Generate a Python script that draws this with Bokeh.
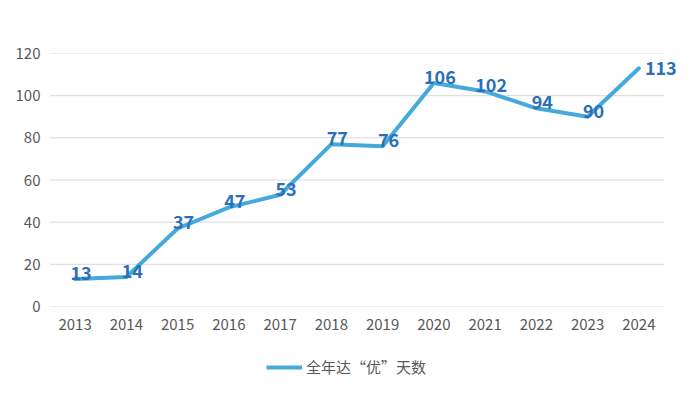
from bokeh.plotting import figure
from bokeh.layouts import column
from bokeh.models import (ColumnDataSource, LabelSet, Legend, LegendItem, FixedTicker, Range1d)
from bokeh.core.properties import value
from bokeh.embed import file_html
from bokeh.resources import INLINE

years = ["2013", "2014", "2015", "2016", "2017", "2018", "2019", "2020", "2021", "2022", "2023", "2024"]
days = [13, 14, 37, 47, 53, 77, 76, 106, 102, 94, 90, 113]
series_name = "全年达“优”天数"
y_ticks = [0, 20, 40, 60, 80, 100, 120]

idx = list(range(len(years)))
n = len(years)

src = ColumnDataSource(dict(x=idx, y=days, label=[str(v) for v in days]))
src_mid = ColumnDataSource(dict(x=idx[:-1], y=days[:-1], label=[str(v) for v in days[:-1]]))
src_end = ColumnDataSource(dict(x=idx[-1:], y=days[-1:], label=[str(v) for v in days[-1:]]))
grid_src = ColumnDataSource(dict(x0=[-0.5] * len(y_ticks), x1=[n - 0.5] * len(y_ticks), y=y_ticks))

FONT = "Noto Sans CJK SC"
LINE_COLOR = "#46a9de"

p = figure(x_range=Range1d(-0.5, n - 0.5 + 0.234), y_range=Range1d(0, 120), width=676, height=344,
           output_backend="svg", toolbar_location=None,
           min_border_left=49, min_border_right=0, min_border_top=53, min_border_bottom=38)
p.outline_line_color = None
p.background_fill_color = "white"
p.border_fill_color = "white"
p.xgrid.grid_line_color = None
p.ygrid.grid_line_color = None

p.segment(x0="x0", x1="x1", y0="y", y1="y", source=grid_src, line_color="#d9d9d9", line_width=1)

r = p.line("x", "y", source=src, line_color=LINE_COLOR, line_width=4, line_join="round", line_cap="round")

common = dict(text_baseline="middle", text_font=value(FONT), text_font_style="bold",
              text_font_size="18px", text_color="#2a6fb8")
p.add_layout(LabelSet(x="x", y="y", text="label", source=src_mid, x_offset=6, y_offset=6,
                      text_align="center", **common))
p.add_layout(LabelSet(x="x", y="y", text="label", source=src_end, x_offset=6, y_offset=0,
                      text_align="left", **common))

p.yaxis.ticker = FixedTicker(ticks=y_ticks)
p.xaxis.ticker = FixedTicker(ticks=idx)
p.xaxis.major_label_overrides = {i: y for i, y in zip(idx, years)}

for ax in (p.xaxis[0], p.yaxis[0]):
    ax.axis_line_color = None
    ax.major_tick_line_color = None
    ax.minor_tick_line_color = None
    ax.major_tick_out = 0
    ax.major_label_text_font = FONT
    ax.major_label_text_font_size = "15px"
    ax.major_label_text_color = "#595959"
p.yaxis.major_label_standoff = 9
p.xaxis.major_label_standoff = 12

# legend strip below the chart (its line lies outside the strip's ranges, only the legend glyph shows)
lg = figure(x_range=Range1d(0, 1), y_range=Range1d(0, 1), width=676, height=34,
            output_backend="svg", toolbar_location=None,
            x_axis_location=None, y_axis_location=None,
            min_border_left=0, min_border_right=0, min_border_top=0, min_border_bottom=0)
lg.outline_line_color = None
lg.xgrid.grid_line_color = None
lg.ygrid.grid_line_color = None
lg.border_fill_color = "white"
lr = lg.line(x=idx, y=days, line_color=LINE_COLOR, line_width=4)

legend = Legend(items=[LegendItem(label=series_name, renderers=[lr])],
                orientation="horizontal", location=(217, 1),
                label_text_font=FONT, label_text_font_size="15px", label_text_color="#595959",
                glyph_width=36, glyph_height=20, label_standoff=4, label_height=20,
                border_line_color=None, background_fill_alpha=0, padding=0, margin=0)
lg.add_layout(legend, "center")

layout = column(p, lg, spacing=0)
open("out.html", "w").write(file_html(layout, INLINE))
